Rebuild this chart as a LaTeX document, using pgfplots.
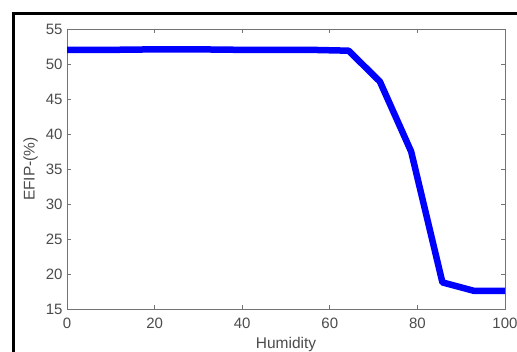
\documentclass[border=0pt]{standalone}
\usepackage{pgfplots}
\pgfplotsset{compat=1.18}
\usepackage{fontspec}
\setmainfont{Liberation Sans}
\begin{document}
\begin{tikzpicture}[x=1pt,y=1pt]
\path[use as bounding box] (0,0) rectangle (517,352);
\fill[white] (0,0) rectangle (517,352);
\draw[line width=3.5pt] (13.5,-5) -- (13.5,338.5) -- (530,338.5);
\begin{axis}[
  at={(67pt,43pt)}, anchor=south west,
  scale only axis, width=438pt, height=280pt,
  xmin=0, xmax=100, ymin=15, ymax=55,
  xtick={0,20,...,100}, ytick={15,20,...,55},
  tick align=inside, major tick length=4pt,
  axis line style={black!55, line width=0.8pt},
  every tick/.style={black!55, line width=0.8pt},
  ticklabel style={font=\fontsize{15}{18}\selectfont, text=black!70},
  xticklabel style={yshift=-5pt},
  yticklabel style={xshift=-1pt},
  /pgf/number format/assume math mode=true,
  xlabel={Humidity}, ylabel={EFIP-(\%)},
  label style={font=\fontsize{15.5}{18}\selectfont, text=black!70},
  xlabel style={at={(axis description cs:0.5,-0.125)}, anchor=center},
  ylabel style={at={(axis description cs:-0.083,0.5)}, anchor=center},
]
\addplot[blue, line width=6.5pt, line join=round] coordinates {
(0,52) (7.14,52) (14.29,52.05) (21.43,52.1) (28.57,52.1) (35.71,52.05) (42.86,52)
(50,52) (57.14,52) (64.29,51.9) (71.43,47.5) (78.57,37.5) (85.71,18.8) (92.86,17.6) (100,17.6)
};
\end{axis}
\end{tikzpicture}
\end{document}
